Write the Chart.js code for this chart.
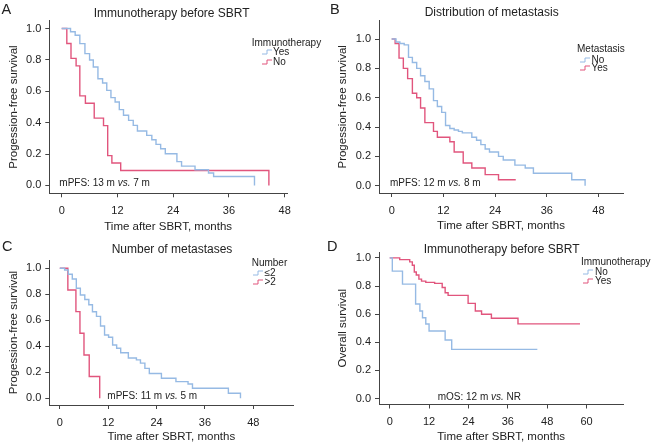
<!DOCTYPE html>
<html>
<head>
<meta charset="utf-8">
<script src="https://cdn.jsdelivr.net/npm/chart.js@4.4.1/dist/chart.umd.min.js"></script>
<style>
body { margin: 0; background: #fff; }
#wrap { position: relative; width: 651px; height: 445px; overflow: hidden; font-family: "Liberation Sans", Arial, sans-serif; color: #222; }
#wrap canvas { position: absolute; left: 0; top: 0; }
.t { position: absolute; white-space: nowrap; line-height: 1; }
</style>
</head>
<body>
<div id="wrap">
  <canvas id="cA" width="651" height="445"></canvas>
  <canvas id="cB" width="651" height="445"></canvas>
  <canvas id="cC" width="651" height="445"></canvas>
  <canvas id="cD" width="651" height="445"></canvas>
</div>
<script>
// tick labels
const survTicks = [0, 0.2, 0.4, 0.6, 0.8, 1.0];
const pfsTicks = [0, 12, 24, 36, 48];
const osTicks = [0, 12, 24, 36, 48, 60];

// A - immunotherapy before SBRT, PFS
const aYesTime = [0, 1.9, 2.9, 3.9, 5.0, 6.0, 6.8, 7.8, 8.8, 9.7, 10.6, 11.5, 12.4, 13.3, 14.4, 15.4, 16.3, 18.3, 19.4, 20.3, 21.3, 22.3, 24.8, 25.8, 28.7, 31.6, 32.7, 41.5];
const aYesSurv = [1, 0.98, 0.957, 0.904, 0.84, 0.80, 0.755, 0.68, 0.653, 0.606, 0.56, 0.532, 0.483, 0.447, 0.415, 0.383, 0.347, 0.319, 0.291, 0.262, 0.234, 0.202, 0.152, 0.123, 0.10, 0.079, 0.057, 0];
const aNoTime = [0, 1.1, 2.0, 3.1, 3.9, 5.1, 7.0, 9.0, 9.9, 10.8, 12.7, 44.6];
const aNoSurv = [1, 0.905, 0.81, 0.762, 0.571, 0.524, 0.429, 0.381, 0.19, 0.143, 0.095, 0];

// B - distribution of metastasis, PFS
const bNoTime = [0, 1.0, 1.9, 2.9, 3.9, 4.8, 5.8, 6.7, 7.7, 8.7, 9.7, 10.6, 11.6, 12.5, 13.5, 14.5, 15.5, 16.4, 18.6, 19.7, 20.7, 21.7, 22.7, 24.8, 25.9, 28.6, 31.0, 32.9, 41.8, 44.9];
const bNoSurv = [1, 0.98, 0.97, 0.96, 0.875, 0.84, 0.80, 0.75, 0.71, 0.66, 0.58, 0.54, 0.50, 0.41, 0.39, 0.38, 0.37, 0.36, 0.33, 0.31, 0.28, 0.25, 0.23, 0.20, 0.175, 0.14, 0.12, 0.085, 0.04, 0];
const bYesTime = [0, 0.8, 1.7, 2.7, 3.7, 4.8, 5.8, 6.7, 7.7, 9.7, 10.6, 13.5, 14.5, 16.6, 18.6, 21.7, 24.8, 28.8];
const bYesSurv = [1, 0.97, 0.87, 0.80, 0.73, 0.63, 0.60, 0.53, 0.43, 0.37, 0.33, 0.30, 0.23, 0.155, 0.12, 0.075, 0.04, 0.04];

// C - number of metastases, PFS
const cLowTime = [0, 1.2, 2.1, 3.1, 4.1, 5.1, 6.2, 7.2, 8.1, 9.1, 10.1, 11.1, 12.1, 13.1, 14.1, 15.1, 17.0, 19.0, 20.0, 21.1, 22.2, 25.2, 28.8, 31.8, 32.9, 41.8, 44.8];
const cLowSurv = [1, 0.987, 0.954, 0.918, 0.846, 0.795, 0.76, 0.72, 0.666, 0.63, 0.556, 0.487, 0.47, 0.41, 0.385, 0.35, 0.31, 0.295, 0.27, 0.23, 0.19, 0.154, 0.128, 0.11, 0.077, 0.038, 0];
const cHighTime = [0, 2, 4, 5, 6, 7.3, 9.9];
const cHighSurv = [1, 0.833, 0.667, 0.5, 0.333, 0.167, 0];

// D - immunotherapy before SBRT, OS
const dNoTime = [0, 0.8, 3.9, 7.9, 9.2, 10, 11, 12, 16.9, 18.9, 45];
const dNoSurv = [1, 0.906, 0.814, 0.672, 0.623, 0.575, 0.53, 0.48, 0.417, 0.35, 0.35];
const dYesTime = [0, 3.05, 6.1, 6.9, 7.5, 8.1, 8.9, 9.7, 11, 13.7, 16, 16.9, 17.8, 23.9, 26.1, 28, 31, 39.1, 58];
const dYesSurv = [1, 0.988, 0.972, 0.948, 0.90, 0.878, 0.849, 0.835, 0.826, 0.819, 0.79, 0.752, 0.734, 0.677, 0.623, 0.60, 0.571, 0.531, 0.531];

const BLUE = 'rgb(150,186,228)';
const RED = 'rgb(225,85,125)';
const AXIS = '#444';
const FONT = '"Liberation Sans", Arial, sans-serif';

function kmChart(id, series, o) {
  return new Chart(document.getElementById(id), {
    type: 'line',
    data: {
      datasets: series.map(s => ({
        label: s.label,
        data: s.time.map((t, i) => ({ x: t, y: s.surv[i] })),
        borderColor: s.color,
        borderWidth: 1.4,
        stepped: true,
        pointRadius: 0,
        fill: false
      }))
    },
    options: {
      responsive: false,
      animation: false,
      events: [],
      layout: { padding: o.pad },
      plugins: { legend: { display: false }, tooltip: { enabled: false } },
      scales: {
        x: {
          type: 'linear',
          min: o.xMin, max: o.xMax,
          afterBuildTicks: s => { s.ticks = o.xTicks.map(v => ({ value: v })); },
          afterFit: s => { s.height = o.hx; },
          grid: { drawOnChartArea: false, tickLength: 4, color: AXIS },
          border: { color: AXIS, width: 1 },
          ticks: { font: { family: FONT, size: 11 }, color: '#222', padding: 7, maxRotation: 0 },
          title: { display: true, text: 'Time after SBRT, months', font: { family: FONT, size: 11.5 }, color: '#222', padding: { top: 0, bottom: 0 } }
        },
        y: {
          min: o.yMin, max: o.yMax,
          afterBuildTicks: s => { s.ticks = survTicks.map(v => ({ value: v })); },
          afterFit: s => { s.width = 49.3; },
          grid: { drawOnChartArea: false, tickLength: 4, color: AXIS },
          border: { color: AXIS, width: 1 },
          ticks: { font: { family: FONT, size: 11 }, color: '#222', padding: 4, callback: v => v.toFixed(1) },
          title: { display: true, text: o.yTitle, font: { family: FONT, size: 11.5 }, color: '#222', padding: { top: 6.5, bottom: 0 } }
        }
      }
    }
  });
}

kmChart('cA', [
  { label: 'Yes', time: aYesTime, surv: aYesSurv, color: BLUE },
  { label: 'No', time: aNoTime, surv: aNoSurv, color: RED }
], { xMin: -2.67, xMax: 48.5, yMin: -0.05, yMax: 1.05, xTicks: pfsTicks, hx: 40.5,
     pad: { left: 0, right: 364, top: 20.7, bottom: 211.2 }, yTitle: 'Progession-free survival' });

kmChart('cB', [
  { label: 'No', time: bNoTime, surv: bNoSurv, color: BLUE },
  { label: 'Yes', time: bYesTime, surv: bYesSurv, color: RED }
], { xMin: -2.95, xMax: 53.7, yMin: -0.05, yMax: 1.125, xTicks: pfsTicks, hx: 40,
     pad: { left: 329.7, right: 28, top: 20.7, bottom: 212 }, yTitle: 'Progession-free survival' });

kmChart('cC', [
  { label: '≤2', time: cLowTime, surv: cLowSurv, color: BLUE },
  { label: '>2', time: cHighTime, surv: cHighSurv, color: RED }
], { xMin: -2.6, xMax: 57.9, yMin: -0.052, yMax: 1.064, xTicks: pfsTicks, hx: 38.4,
     pad: { left: 0, right: 357.7, top: 260, bottom: 1.6 }, yTitle: 'Progession-free survival' });

kmChart('cD', [
  { label: 'No', time: dNoTime, surv: dNoSurv, color: BLUE },
  { label: 'Yes', time: dYesTime, surv: dYesSurv, color: RED }
], { xMin: -3.26, xMax: 71.2, yMin: -0.042, yMax: 1.042, xTicks: osTicks, hx: 39.5,
     pad: { left: 329.7, right: 27.7, top: 252, bottom: 1 }, yTitle: 'Overall survival' });

// texts: panel letters, titles, legends, medians
const wrap = document.getElementById('wrap');
function addText(html, x, y, size, centered) {
  const d = document.createElement('div');
  d.className = 't';
  d.innerHTML = html;
  d.style.left = x + 'px';
  d.style.top = y + 'px';
  d.style.fontSize = size + 'px';
  d.style.transform = centered ? 'translate(-50%,-50%)' : 'translateY(-50%)';
  wrap.appendChild(d);
}
function glyph(x, y, color) {
  addText('<svg width="10" height="7" style="display:block"><polyline points="0,5.5 5,5.5 5,1.5 10,1.5" fill="none" stroke="' + color + '" stroke-width="1"/></svg>', x, y, 7, false);
}

addText('A', 1.5, 8.5, 14.5, false);
addText('B', 330, 8.5, 14.5, false);
addText('C', 2, 245.5, 14.5, false);
addText('D', 327, 245.5, 14.5, false);

addText('Immunotherapy before SBRT', 171.7, 12.7, 12, true);
addText('Distribution of metastasis', 491.7, 12.2, 12, true);
addText('Number of metastases', 172, 249.3, 12, true);
addText('Immunotherapy before SBRT', 501.7, 249.3, 12, true);

addText('Immunotherapy', 251.7, 43.3, 10, false);
glyph(262, 52.3, BLUE); addText('Yes', 273, 52.3, 10, false);
glyph(262, 61.7, RED); addText('No', 273, 61.7, 10, false);

addText('Metastasis', 577, 49.3, 10, false);
glyph(580, 59.8, BLUE); addText('No', 591.5, 59.8, 10, false);
glyph(580, 68.3, RED); addText('Yes', 591.5, 68.3, 10, false);

addText('Number', 251.7, 262.7, 10, false);
glyph(253, 273.3, BLUE); addText('≤2', 264.5, 273.3, 10, false);
glyph(253, 281.7, RED); addText('&gt;2', 264.5, 281.7, 10, false);

addText('Immunotherapy', 581, 262.3, 10, false);
glyph(583, 271.7, BLUE); addText('No', 595, 271.7, 10, false);
glyph(583, 280.7, RED); addText('Yes', 595, 280.7, 10, false);

addText('mPFS: 13 m <i>vs.</i> 7 m', 59.3, 182.7, 10, false);
addText('mPFS: 12 m <i>vs.</i> 8 m', 390, 182.7, 10, false);
addText('mPFS: 11 m <i>vs.</i> 5 m', 107.3, 395.7, 10, false);
addText('mOS: 12 m <i>vs.</i> NR', 437.7, 396.7, 10, false);
</script>
</body>
</html>
